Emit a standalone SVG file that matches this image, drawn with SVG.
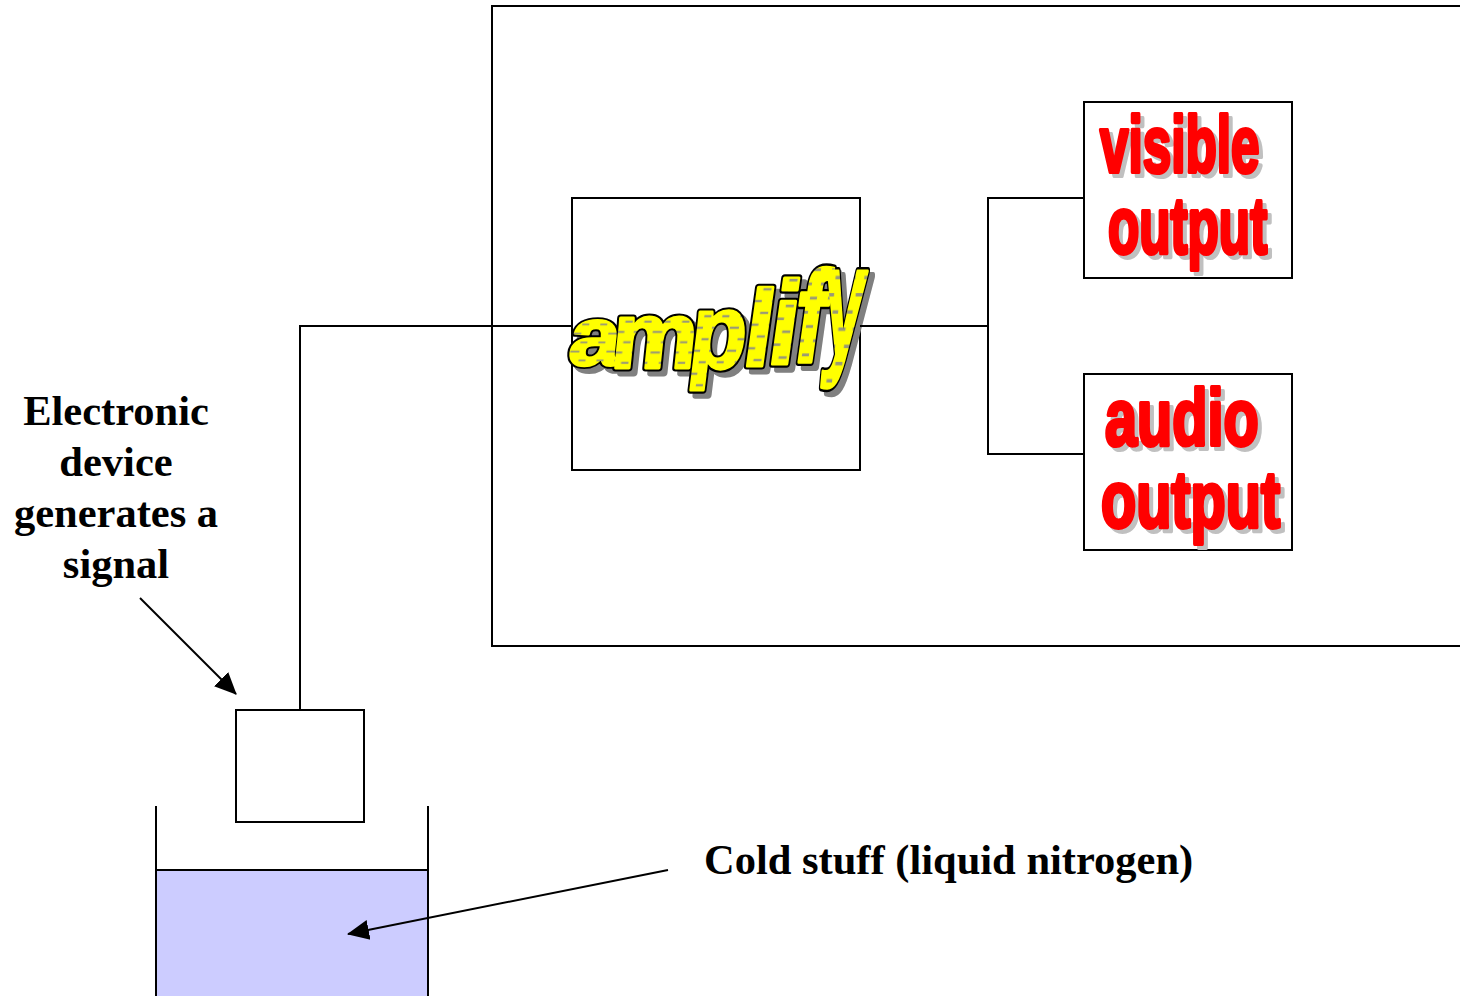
<svg xmlns="http://www.w3.org/2000/svg" xmlns:xlink="http://www.w3.org/1999/xlink" width="1460" height="996" viewBox="0 0 1460 996">
  <style>
    .box { fill: #ffffff; stroke: #000000; stroke-width: 2; }
    .wire { fill: none; stroke: #000000; stroke-width: 2; }
    .label { font-family: "Liberation Serif", "Times New Roman", serif; font-weight: bold; font-size: 42.5px; fill: #000000; text-anchor: middle; }
    .cold { font-family: "Liberation Serif", "Times New Roman", serif; font-weight: bold; font-size: 42.5px; fill: #000000; }
    .big { font-family: "Liberation Sans", Arial, sans-serif; font-weight: bold; font-size: 80px; stroke-width: 3.5; stroke-linejoin: round; vector-effect: non-scaling-stroke; }
    .red { fill: #ff0000; stroke: #ff0000; }
    .shade { fill: #c0c0c0; stroke: #c0c0c0; }
    .amp { font-family: "Liberation Sans", Arial, sans-serif; font-weight: bold; font-size: 92px; vector-effect: non-scaling-stroke; }
  </style>
  <defs>
    <marker id="head" markerUnits="userSpaceOnUse" markerWidth="22" markerHeight="22" viewBox="0 0 22 22" refX="21" refY="11" orient="auto">
      <path d="M0,1 L22,11 L0,21 Z" fill="#000000"/>
    </marker>
    <pattern id="dash" patternUnits="userSpaceOnUse" width="18" height="20">
      <rect width="18" height="20" fill="#ffff00"/>
      <rect x="2" y="4" width="9" height="2" fill="#999977"/>
      <rect x="11" y="14" width="9" height="2" fill="#999977"/>
    </pattern>
    <!-- cascading letters of the amplifier title -->
    <g id="amp-letters">
      <text class="amp" transform="translate(567,365) skewX(-6) scale(1,0.9)">a</text>
      <text class="amp" transform="translate(609,368) skewX(-6) scale(1.05,1.03)">m</text>
      <text class="amp" transform="translate(687,368) skewX(-7) scale(1,1.15)">p</text>
      <text class="amp" transform="translate(740,366) skewX(-8) scale(1.15,1.18)">l</text>
      <text class="amp" transform="translate(765,364) skewX(-8) scale(1.15,1.29)">i</text>
      <text class="amp" transform="translate(790,362) skewX(-8) scale(1.0,1.42)">f</text>
      <text class="amp" transform="translate(820,355) skewX(-5) scale(0.8,1.72)">y</text>
    </g>
  </defs>

  <rect width="1460" height="996" fill="#ffffff"/>

  <!-- enclosure for the signal chain -->
  <g id="enclosure">
    <rect class="box" x="492" y="6" width="1000" height="640"/>
  </g>

  <g id="amplifier">
    <rect class="box" x="572" y="198" width="288" height="272"/>
    <use xlink:href="#amp-letters" transform="translate(5,5)" fill="#808080" stroke="#808080" stroke-width="7" stroke-linejoin="round"/>
    <use xlink:href="#amp-letters" fill="#000000" stroke="#000000" stroke-width="7" stroke-linejoin="round"/>
    <use xlink:href="#amp-letters" fill="url(#dash)" stroke="url(#dash)" stroke-width="3" stroke-linejoin="round"/>
  </g>

  <g id="visible-output">
    <rect class="box" x="1084" y="102" width="208" height="176"/>
    <text class="big shade" transform="translate(1104,176) scale(0.64,1)">visible</text>
    <text class="big red" transform="translate(1100,172) scale(0.64,1)">visible</text>
    <text class="big shade" transform="translate(1112,257) scale(0.64,1)">output</text>
    <text class="big red" transform="translate(1108,253) scale(0.64,1)">output</text>
  </g>

  <g id="audio-output">
    <rect class="box" x="1084" y="374" width="208" height="176"/>
    <text class="big shade" transform="translate(1109,449) scale(0.72,1)">audio</text>
    <text class="big red" transform="translate(1105,445) scale(0.72,1)">audio</text>
    <text class="big shade" transform="translate(1105,531) scale(0.72,1)">output</text>
    <text class="big red" transform="translate(1101,527) scale(0.72,1)">output</text>
  </g>

  <g id="device">
    <rect class="box" x="236" y="710" width="128" height="112"/>
  </g>

  <g id="dewar">
    <rect x="156" y="870" width="272" height="130" fill="#ccccff" stroke="#000000" stroke-width="2"/>
    <line class="wire" x1="156" y1="806" x2="156" y2="996"/>
    <line class="wire" x1="428" y1="806" x2="428" y2="996"/>
  </g>

  <g id="connectors">
    <polyline class="wire" points="300,710 300,326 572,326"/>
    <line class="wire" x1="860" y1="326" x2="988" y2="326"/>
    <polyline class="wire" points="1084,198 988,198 988,454 1084,454"/>
    <line class="wire" x1="140" y1="598" x2="236" y2="694" marker-end="url(#head)"/>
    <line class="wire" x1="668" y1="870" x2="348" y2="934" marker-end="url(#head)"/>
  </g>

  <g id="device-label">
    <text class="label" x="116" y="425">Electronic</text>
    <text class="label" x="116" y="476">device</text>
    <text class="label" x="116" y="527">generates a</text>
    <text class="label" x="116" y="578">signal</text>
  </g>

  <g id="coolant-label">
    <text class="cold" x="704" y="874">Cold stuff (liquid nitrogen)</text>
  </g>
</svg>
